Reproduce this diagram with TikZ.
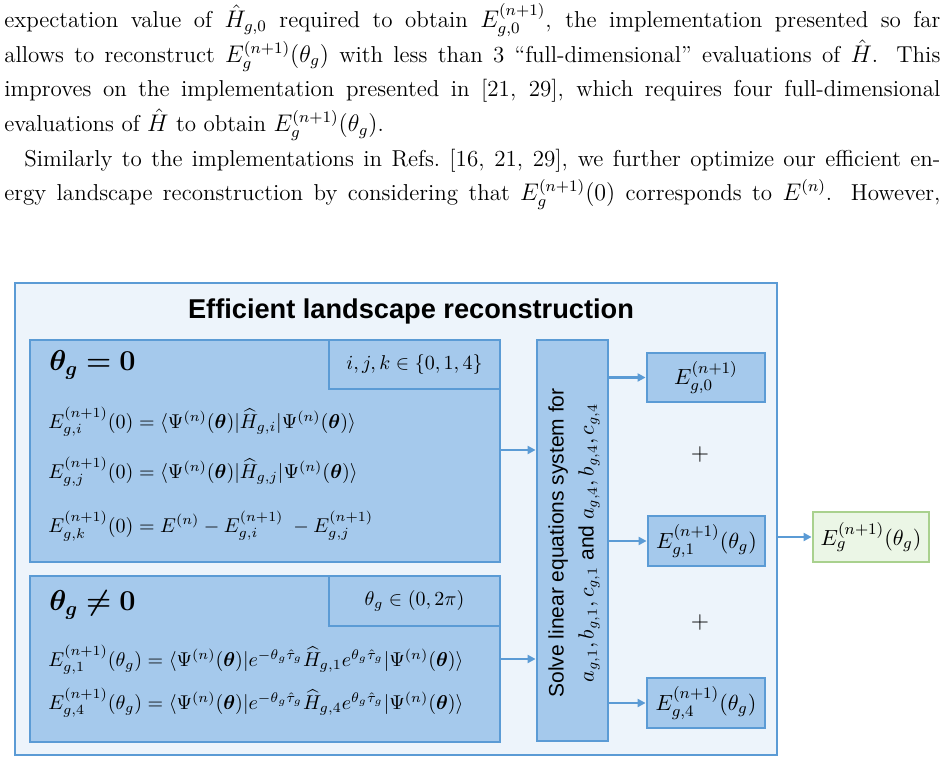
\documentclass[tikz,border=0pt]{standalone}
\usepackage{amsmath,amssymb,bm}
\usepackage{fontspec}
\newfontfamily\arialf{Liberation Sans}
\usetikzlibrary{arrows.meta}
\definecolor{bord}{HTML}{5B9BD5}
\definecolor{outerfill}{HTML}{EDF4FB}
\definecolor{boxfill}{HTML}{A5C9EC}
\definecolor{gfill}{HTML}{EBF6E6}
\definecolor{gbord}{HTML}{A9D18E}
\begin{document}
\begin{tikzpicture}[x=0.5pt,y=-0.5pt,
  bx/.style={draw=bord,line width=1.4pt,fill=boxfill,inner sep=0pt},
  arr/.style={draw=bord,line width=1.2pt,-{Triangle[length=4pt,width=4pt]}},
  eq/.style={anchor=west,inner sep=0pt,font=\fontsize{10.2}{12}\selectfont}]
\useasboundingbox (0,0) rectangle (944,764);
\node[anchor=north west,inner sep=0pt,text width=468pt,align=justify,
  font=\fontsize{11.5}{17.3}\selectfont] (para) at (4,3) {%
expectation value of $\hat H_{g,0}$ required to obtain $E^{(n+1)}_{g,0}$, the implementation presented so far\linebreak
allows to reconstruct $E^{(n+1)}_g(\theta_g)$ with less than 3 ``full-dimensional'' evaluations of $\hat H$. This\linebreak
improves on the implementation presented in [21, 29], which requires four full-dimensional\linebreak
evaluations of $\hat H$ to obtain $E^{(n+1)}_g(\theta_g)$.\par
\hspace*{10pt}Similarly to the implementations in Refs.~[16, 21, 29], we further optimize our efficient en-\linebreak
ergy landscape reconstruction by considering that $E^{(n+1)}_g(0)$ corresponds to $E^{(n)}$. However,\linebreak};
% outer
\node[draw=bord,line width=1.4pt,fill=outerfill,minimum width=381pt,minimum height=236pt,inner sep=0pt] (outer) at (396,519) {};
\node[font=\arialf\bfseries\fontsize{13.6}{15}\selectfont] (title) at (411,311) {Efficient landscape reconstruction};
% box 1
\node[bx,minimum width=235pt,minimum height=111pt] (b1) at (265,451) {};
\node[bx,minimum width=85.5pt,minimum height=24.5pt,anchor=north east] (s1) at (b1.north east) {};
\node[font=\fontsize{10.2}{12}\selectfont] (s1t) at (s1) {$i,j,k\in\{0,1,4\}$};
\node[eq,font=\fontsize{14}{16}\selectfont] (h1) at (49,365) {$\bm{\theta_g=0}$};
\node[eq] (e1) at (48,422) {$E^{(n+1)}_{g,i}(0)=\langle\Psi^{(n)}(\bm\theta)|\widehat H_{g,i}|\Psi^{(n)}(\bm\theta)\rangle$};
\node[eq] (e2) at (48,472) {$E^{(n+1)}_{g,j}(0)=\langle\Psi^{(n)}(\bm\theta)|\widehat H_{g,j}|\Psi^{(n)}(\bm\theta)\rangle$};
\node[eq] (e3) at (48,526) {$E^{(n+1)}_{g,k}(0)=E^{(n)}-E^{(n+1)}_{g,i}\;-E^{(n+1)}_{g,j}$};
% box 2
\node[bx,minimum width=235pt,minimum height=83pt] (b2) at (265,659) {};
\node[bx,minimum width=85.5pt,minimum height=25pt,anchor=north east] (s2) at (b2.north east) {};
\node[font=\fontsize{10.2}{12}\selectfont] (s2t) at (s2) {$\theta_g\in(0,2\pi)$};
\node[eq,font=\fontsize{14}{16}\selectfont] (h2) at (49,605) {$\bm{\theta_g\neq0}$};
\node[eq] (e4) at (48,660) {$E^{(n+1)}_{g,1}(\theta_g)=\langle\Psi^{(n)}(\bm\theta)|e^{-\theta_g\hat\tau_g}\widehat H_{g,1}e^{\theta_g\hat\tau_g}|\Psi^{(n)}(\bm\theta)\rangle$};
\node[eq] (e5) at (48,703) {$E^{(n+1)}_{g,4}(\theta_g)=\langle\Psi^{(n)}(\bm\theta)|e^{-\theta_g\hat\tau_g}\widehat H_{g,4}e^{\theta_g\hat\tau_g}|\Psi^{(n)}(\bm\theta)\rangle$};
% solve box
\node[bx,minimum width=35.5pt,minimum height=200.5pt] (solve) at (572.5,540.5) {};
\node[rotate=90,align=center,font=\arialf\fontsize{10.5}{15}\selectfont] (solvet) at (574,543) {Solve linear equations system for\\ $a_{g,1},b_{g,1},c_{g,1}$ and $a_{g,4},b_{g,4},c_{g,4}$};
% outputs
\node[bx,minimum width=59pt,minimum height=24.5pt] (o0) at (706,377.5) {};
\node[font=\fontsize{11}{12}\selectfont] (o0t) at (o0) {$E^{(n+1)}_{g,0}$};
\node[bx,minimum width=58.5pt,minimum height=25pt] (o1) at (706.5,541) {};
\node[font=\fontsize{11}{12}\selectfont] (o1t) at (o1) {$E^{(n+1)}_{g,1}(\theta_g)$};
\node[bx,minimum width=59pt,minimum height=25pt] (o4) at (706,703) {};
\node[font=\fontsize{11}{12}\selectfont] (o4t) at (o4) {$E^{(n+1)}_{g,4}(\theta_g)$};
\node[font=\fontsize{12}{12}\selectfont] (p1) at (700,455) {$+$};
\node[font=\fontsize{12}{12}\selectfont] (p2) at (700,623) {$+$};
\node[draw=gbord,line width=1.4pt,fill=gfill,minimum width=58pt,minimum height=25pt,inner sep=0pt] (fin) at (871,537) {};
\node[font=\fontsize{11}{12}\selectfont] (fint) at (fin) {$E^{(n+1)}_{g}(\theta_g)$};
% arrows
\draw[arr] (b1.east |- 0,450) -- (solve.west |- 0,450);
\draw[arr] (b2.east |- 0,659) -- (solve.west |- 0,659);
\draw[arr] (solve.east |- o0) -- (o0.west);
\draw[arr] (solve.east |- o1) -- (o1.west);
\draw[arr] (solve.east |- o4) -- (o4.west);
\draw[arr] (outer.east |- fin) -- (fin.west);
\end{tikzpicture}
\end{document}
